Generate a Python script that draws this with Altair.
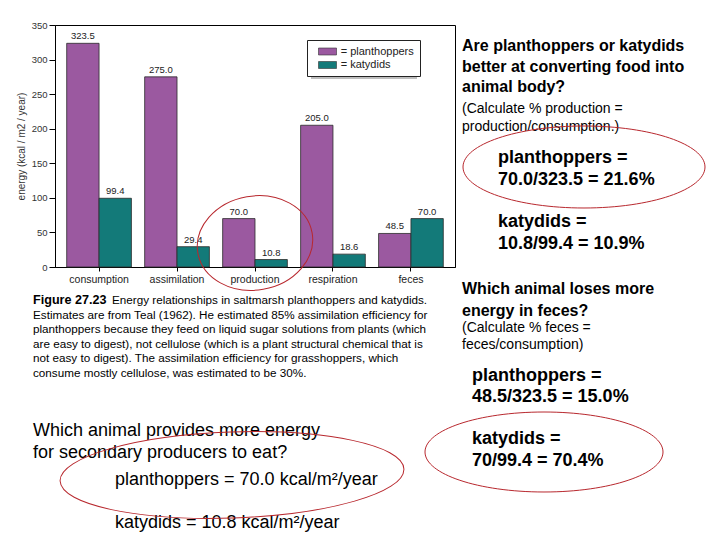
import altair as alt
import pandas as pd

# ---------------- data ----------------
categories = ["consumption", "assimilation", "production", "respiration", "feces"]
series = ["planthoppers", "katydids"]
planthoppers = [323.5, 275.0, 70.0, 205.0, 48.5]
katydids = [99.4, 29.4, 10.8, 18.6, 70.0]
y_ticks = [0, 50, 100, 150, 200, 250, 300, 350]
y_title = "energy (kcal / m2 / year)"

caption_bold = "Figure 27.23"
caption_first = "Energy relationships in saltmarsh planthoppers and katydids."
caption_rest = [
    "Estimates are from Teal (1962). He estimated 85% assimilation efficiency for",
    "planthoppers because they feed on liquid sugar solutions from plants (which",
    "are easy to digest), not cellulose (which is a plant structural chemical that is",
    "not easy to digest). The assimilation efficiency for grasshoppers, which",
    "consume mostly cellulose, was estimated to be 30%.",
]
q_left = ["Which animal provides more energy", "for secondary producers to eat?"]
a_left_1 = "planthoppers = 70.0 kcal/m²/year"
a_left_2 = "katydids = 10.8 kcal/m²/year"
q_right_1 = ["Are planthoppers or katydids", "better at converting food into", "animal body?"]
sub_right_1 = ["(Calculate % production =", "production/consumption.)"]
a_right_1a = ["planthoppers =", "70.0/323.5 = 21.6%"]
a_right_1b = ["katydids =", "10.8/99.4 = 10.9%"]
q_right_2 = ["Which animal loses more", "energy in feces?"]
sub_right_2 = ["(Calculate % feces =", "feces/consumption)"]
a_right_2a = ["planthoppers =", "48.5/323.5 = 15.0%"]
a_right_2b = ["katydids =", "70/99.4 = 70.4%"]

rows = []
for s, vals in zip(series, [planthoppers, katydids]):
    for c, v in zip(categories, vals):
        rows.append({"category": c, "animal": s, "energy": v})
df = pd.DataFrame(rows)
one = pd.DataFrame({"k": [0]})

F = "Liberation Sans"
PURPLE = "#9b59a0"
TEAL = "#137a79"
RED = "#b8282e"

# ---------------- bars ----------------
base = alt.Chart(df).encode(
    x=alt.X(
        "category:N",
        sort=categories,
        scale=alt.Scale(paddingInner=0.17, paddingOuter=0.15),
        axis=alt.Axis(
            title=None, labelAngle=0, labelFont=F, labelFontSize=10.5, labelColor="#222",
            tickSize=4, tickColor="black", domainColor="black", labelPadding=3,
        ),
    ),
    xOffset=alt.XOffset("animal:N", sort=series, scale=alt.Scale(paddingInner=0, paddingOuter=0)),
    y=alt.Y(
        "energy:Q",
        scale=alt.Scale(domain=[0, 350], nice=False),
        axis=alt.Axis(
            values=y_ticks, title=y_title, grid=False, labelFont=F, labelFontSize=9.5,
            labelColor="#333", tickSize=6, tickColor="black", domainColor="black",
            labelPadding=2, titleFont=F, titleFontSize=10, titleFontWeight="normal",
            titleColor="#333", titlePadding=5,
        ),
    ),
)

bars = base.mark_bar(stroke="#2b2b2b", strokeWidth=0.8).encode(
    color=alt.Color(
        "animal:N",
        sort=series,
        scale=alt.Scale(domain=series, range=[PURPLE, TEAL]),
        legend=alt.Legend(
            title=None, orient="none", legendX=252, legendY=15, direction="vertical",
            symbolType="M0,-0.7L3.6,-0.7L3.6,0.7L0,0.7Z", symbolSize=100,
            symbolStrokeColor="#333", symbolStrokeWidth=0.6,
            labelExpr="'= ' + datum.label", labelFont=F, labelFontSize=11,
            labelColor="#222", labelOffset=16.7, strokeColor="#222",
            fillColor="white", padding=6, rowPadding=1.5,
        ),
    )
)

labels = base.mark_text(baseline="bottom", dy=-2, fontSize=9.5, font=F, color="#222").encode(
    text=alt.Text("energy:Q", format=".1f")
)

shadow = alt.Chart(one).mark_rect(color="#888", opacity=0.55).encode(
    x=alt.value(256), x2=alt.value(362), y=alt.value(19), y2=alt.value(54)
)


def block(lines, x, y, size, weight="normal", lh=None):
    kw = dict(text=lines, align="left", baseline="alphabetic", fontSize=size,
              fontWeight=weight, font=F, color="black")
    if lh is not None:
        kw["lineHeight"] = lh
    return alt.Chart(one).mark_text(**kw).encode(x=alt.value(x), y=alt.value(y))


texts = [
    block(caption_bold, -22, 279, 12.6, "bold"),
    block(caption_first, 57, 279, 11.7),
    block(caption_rest, -22, 293.6, 11.7, lh=14.6),
    block(q_left, -22, 411, 18, lh=22),
    block(a_left_1, 60, 459.5, 18),
    block(a_left_2, 60, 502.5, 18),
    block(q_right_1, 407, 26, 16, "bold", lh=20.5),
    block(sub_right_1, 407, 88, 14, lh=17.5),
    block(a_right_1a, 443, 138, 18, "bold", lh=22),
    block(a_right_1b, 443, 202, 18, "bold", lh=22),
    block(q_right_2, 407, 269, 16, "bold", lh=22),
    block(sub_right_2, 407, 307, 14, lh=16.5),
    block(a_right_2a, 417, 356, 18, "bold", lh=21),
    block(a_right_2b, 417, 419, 18, "bold", lh=22),
]


def ellipse(cx, cy, hw, hh, angle=0):
    k = 0.5523
    r = hh / hw
    p = (f"M-1,0 C-1,{-k*r:.4f} {-k},{-r:.4f} 0,{-r:.4f} "
         f"C{k},{-r:.4f} 1,{-k*r:.4f} 1,0 "
         f"C1,{k*r:.4f} {k},{r:.4f} 0,{r:.4f} "
         f"C{-k},{r:.4f} -1,{k*r:.4f} -1,0 Z")
    return alt.Chart(one).mark_point(
        shape=p, filled=False, stroke=RED, color=RED, strokeWidth=1, opacity=1,
        size=4 * hw * hw, angle=angle,
    ).encode(x=alt.value(cx), y=alt.value(cy))


ellipses = [
    ellipse(529, 142, 121, 41),
    ellipse(489, 427, 119, 40),
    ellipse(177, 450, 172, 43, 358),
    ellipse(200, 218, 58, 47, 350),
]

chart = alt.layer(shadow, bars, labels, *texts, *ellipses).properties(
    width=400,
    height=242,
    padding={"left": 47, "top": 17, "right": 257, "bottom": 265},
    autosize=alt.AutoSizeParams(type="none"),
    background="white",
).configure_view(stroke="black", strokeWidth=1)

chart.save("out.html", embed_options={"renderer": "svg", "actions": False})
